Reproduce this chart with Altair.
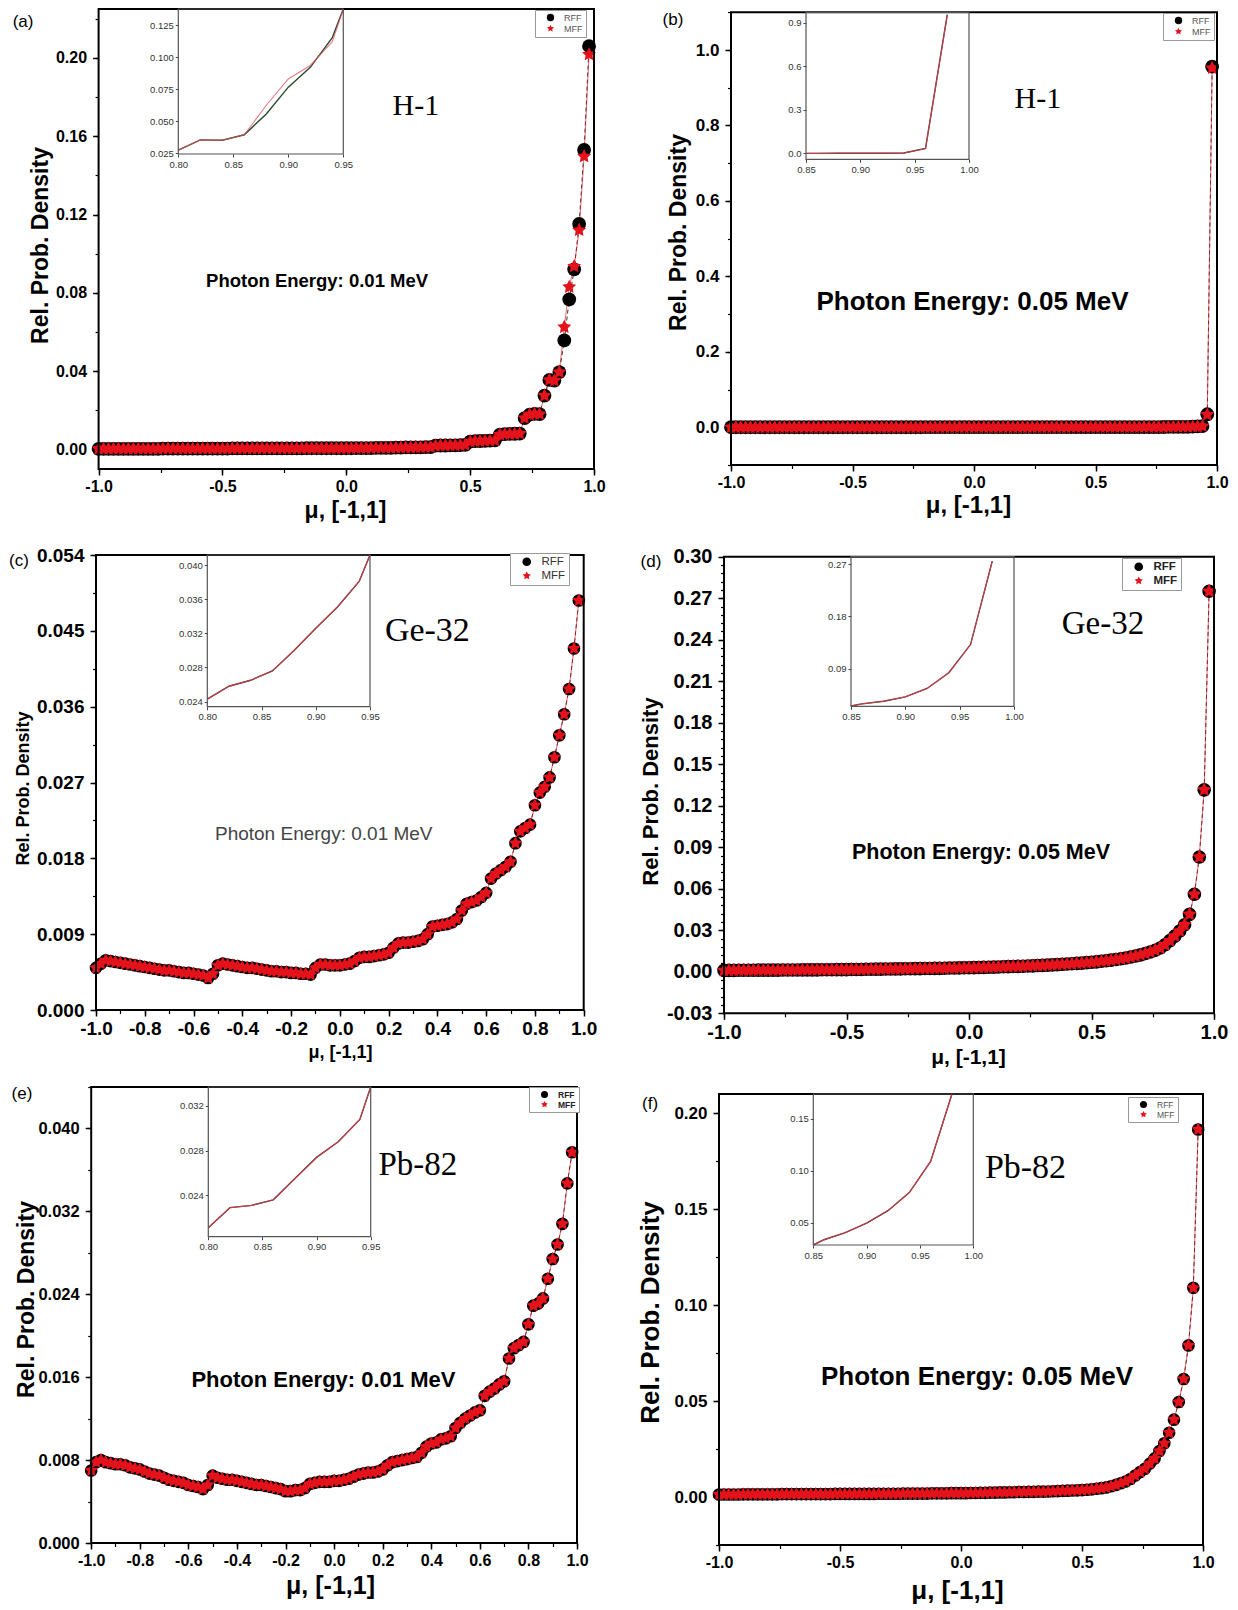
import altair as alt
import pandas as pd

CANVAS_W, CANVAS_H = 1238, 1610
SANS = "Liberation Sans"
SERIF = "Liberation Serif"
RED = "#e3121b"
# five-pointed star used for the MFF markers (unit square path)
STAR = ("M0,-1L0.2939,-0.4045L0.9511,-0.309L0.4755,0.1545L0.5878,0.809L0,0.5"
        "L-0.5878,0.809L-0.4755,0.1545L-0.9511,-0.309L-0.2939,-0.4045Z")

# cosine of the scattering angle, sampled every 0.02
MU = [round(-1.0 + 0.02 * i, 2) for i in range(100)]

# ---- H-1, 0.01 MeV ----
H1_001_RFF = [
    0.0003, 0.0003, 0.0003, 0.0003, 0.0003, 0.0003, 0.0003, 0.0003, 0.0003, 0.0003,
    0.0003, 0.0003, 0.0003, 0.0004, 0.0004, 0.0004, 0.0004, 0.0004, 0.0004, 0.0004,
    0.0004, 0.0004, 0.0004, 0.0004, 0.0004, 0.0004, 0.0004, 0.0005, 0.0005, 0.0005,
    0.0005, 0.0005, 0.0005, 0.0005, 0.0005, 0.0005, 0.0005, 0.0005, 0.0005, 0.0005,
    0.0005, 0.0005, 0.0006, 0.0006, 0.0006, 0.0006, 0.0006, 0.0006, 0.0006, 0.0006,
    0.0006, 0.0006, 0.0007, 0.0007, 0.0007, 0.0007, 0.0008, 0.0008, 0.0008, 0.0008,
    0.0009, 0.0009, 0.0010, 0.0010, 0.0011, 0.0011, 0.0012, 0.0012, 0.0019, 0.0020,
    0.0020, 0.0021, 0.0021, 0.0022, 0.0023, 0.0040, 0.0042, 0.0043, 0.0044, 0.0045,
    0.0046, 0.0076, 0.0078, 0.0079, 0.0080, 0.0081, 0.0160, 0.0178, 0.0182, 0.0180,
    0.0275, 0.0355, 0.0352, 0.0395, 0.0557, 0.0766, 0.0920, 0.1152, 0.1530, 0.2060,
]
H1_001_MFF = [
    0.0003, 0.0003, 0.0003, 0.0003, 0.0003, 0.0003, 0.0003, 0.0003, 0.0003, 0.0003,
    0.0003, 0.0003, 0.0003, 0.0004, 0.0004, 0.0004, 0.0004, 0.0004, 0.0004, 0.0004,
    0.0004, 0.0004, 0.0004, 0.0004, 0.0004, 0.0004, 0.0004, 0.0005, 0.0005, 0.0005,
    0.0005, 0.0005, 0.0005, 0.0005, 0.0005, 0.0005, 0.0005, 0.0005, 0.0005, 0.0005,
    0.0005, 0.0005, 0.0006, 0.0006, 0.0006, 0.0006, 0.0006, 0.0006, 0.0006, 0.0006,
    0.0006, 0.0006, 0.0007, 0.0007, 0.0007, 0.0007, 0.0008, 0.0008, 0.0008, 0.0008,
    0.0009, 0.0009, 0.0010, 0.0010, 0.0011, 0.0011, 0.0012, 0.0012, 0.0019, 0.0020,
    0.0020, 0.0021, 0.0021, 0.0022, 0.0023, 0.0040, 0.0042, 0.0043, 0.0044, 0.0045,
    0.0046, 0.0076, 0.0078, 0.0079, 0.0080, 0.0081, 0.0160, 0.0178, 0.0182, 0.0180,
    0.0275, 0.0355, 0.0352, 0.0395, 0.0625, 0.0830, 0.0935, 0.1120, 0.1497, 0.2018,
]

# ---- H-1, 0.05 MeV ----
H1_005_RFF = [
    0.0001, 0.0001, 0.0001, 0.0001, 0.0001, 0.0001, 0.0001, 0.0001, 0.0001, 0.0001,
    0.0001, 0.0001, 0.0001, 0.0001, 0.0001, 0.0001, 0.0001, 0.0001, 0.0001, 0.0001,
    0.0001, 0.0001, 0.0001, 0.0001, 0.0001, 0.0001, 0.0001, 0.0001, 0.0001, 0.0001,
    0.0001, 0.0001, 0.0001, 0.0001, 0.0001, 0.0001, 0.0001, 0.0001, 0.0001, 0.0001,
    0.0002, 0.0002, 0.0002, 0.0002, 0.0002, 0.0002, 0.0002, 0.0002, 0.0002, 0.0002,
    0.0002, 0.0002, 0.0002, 0.0002, 0.0002, 0.0002, 0.0002, 0.0002, 0.0002, 0.0002,
    0.0002, 0.0002, 0.0002, 0.0002, 0.0002, 0.0002, 0.0002, 0.0002, 0.0002, 0.0002,
    0.0003, 0.0003, 0.0003, 0.0003, 0.0003, 0.0003, 0.0003, 0.0003, 0.0003, 0.0003,
    0.0003, 0.0003, 0.0004, 0.0004, 0.0004, 0.0005, 0.0005, 0.0006, 0.0006, 0.0007,
    0.0008, 0.0009, 0.0010, 0.0011, 0.0013, 0.0016, 0.0021, 0.0030, 0.0345, 0.9560,
]
H1_005_MFF = [
    0.0001, 0.0001, 0.0001, 0.0001, 0.0001, 0.0001, 0.0001, 0.0001, 0.0001, 0.0001,
    0.0001, 0.0001, 0.0001, 0.0001, 0.0001, 0.0001, 0.0001, 0.0001, 0.0001, 0.0001,
    0.0001, 0.0001, 0.0001, 0.0001, 0.0001, 0.0001, 0.0001, 0.0001, 0.0001, 0.0001,
    0.0001, 0.0001, 0.0001, 0.0001, 0.0001, 0.0001, 0.0001, 0.0001, 0.0001, 0.0001,
    0.0002, 0.0002, 0.0002, 0.0002, 0.0002, 0.0002, 0.0002, 0.0002, 0.0002, 0.0002,
    0.0002, 0.0002, 0.0002, 0.0002, 0.0002, 0.0002, 0.0002, 0.0002, 0.0002, 0.0002,
    0.0002, 0.0002, 0.0002, 0.0002, 0.0002, 0.0002, 0.0002, 0.0002, 0.0002, 0.0002,
    0.0003, 0.0003, 0.0003, 0.0003, 0.0003, 0.0003, 0.0003, 0.0003, 0.0003, 0.0003,
    0.0003, 0.0003, 0.0004, 0.0004, 0.0004, 0.0005, 0.0005, 0.0006, 0.0006, 0.0007,
    0.0008, 0.0009, 0.0010, 0.0011, 0.0013, 0.0016, 0.0021, 0.0030, 0.0335, 0.9520,
]

# ---- Ge-32, 0.01 MeV ----
GE32_001_RFF = [
    0.0050, 0.0055, 0.0059, 0.0058, 0.0057, 0.0056, 0.0055, 0.0054, 0.0053, 0.0052,
    0.0051, 0.0050, 0.0049, 0.0048, 0.0047, 0.0047, 0.0046, 0.0045, 0.0044, 0.0044,
    0.0043, 0.0042, 0.0041, 0.0038, 0.0043, 0.0053, 0.0055, 0.0054, 0.0053, 0.0052,
    0.0051, 0.0050, 0.0050, 0.0049, 0.0048, 0.0047, 0.0046, 0.0046, 0.0045, 0.0045,
    0.0044, 0.0044, 0.0043, 0.0043, 0.0042, 0.0050, 0.0054, 0.0054, 0.0053, 0.0053,
    0.0053, 0.0054, 0.0055, 0.0058, 0.0062, 0.0063, 0.0063, 0.0064, 0.0065, 0.0066,
    0.0068, 0.0074, 0.0079, 0.0080, 0.0080, 0.0081, 0.0082, 0.0084, 0.0090, 0.0099,
    0.0100, 0.0101, 0.0102, 0.0104, 0.0108, 0.0118, 0.0126, 0.0128, 0.0130, 0.0134,
    0.0139, 0.0156, 0.0162, 0.0166, 0.0170, 0.0176, 0.0198, 0.0212, 0.0216, 0.0220,
    0.0243, 0.0258, 0.0265, 0.0276, 0.0300, 0.0326, 0.0351, 0.0381, 0.0429, 0.0486,
]
# the MFF curve coincides with the RFF one at this scale
GE32_001_MFF = GE32_001_RFF

# ---- Ge-32, 0.05 MeV ----
GE32_005_RFF = [
    0.0010, 0.0010, 0.0010, 0.0011, 0.0011, 0.0011, 0.0011, 0.0012, 0.0012, 0.0012,
    0.0012, 0.0012, 0.0013, 0.0013, 0.0013, 0.0013, 0.0014, 0.0014, 0.0014, 0.0014,
    0.0015, 0.0015, 0.0015, 0.0016, 0.0016, 0.0016, 0.0017, 0.0017, 0.0017, 0.0018,
    0.0018, 0.0019, 0.0019, 0.0020, 0.0020, 0.0021, 0.0021, 0.0022, 0.0022, 0.0023,
    0.0023, 0.0024, 0.0024, 0.0025, 0.0025, 0.0026, 0.0027, 0.0027, 0.0028, 0.0029,
    0.0029, 0.0030, 0.0031, 0.0032, 0.0033, 0.0034, 0.0035, 0.0036, 0.0037, 0.0038,
    0.0039, 0.0040, 0.0042, 0.0043, 0.0045, 0.0046, 0.0048, 0.0050, 0.0052, 0.0054,
    0.0056, 0.0058, 0.0061, 0.0063, 0.0066, 0.0069, 0.0072, 0.0076, 0.0080, 0.0084,
    0.0089, 0.0094, 0.0100, 0.0107, 0.0114, 0.0122, 0.0132, 0.0143, 0.0156, 0.0172,
    0.0195, 0.0225, 0.0258, 0.0295, 0.0340, 0.0415, 0.0560, 0.0830, 0.1315, 0.2750,
]
GE32_005_MFF = GE32_005_RFF

# ---- Pb-82, 0.01 MeV ----
PB82_001_RFF = [
    0.0070, 0.0078, 0.0080, 0.0078, 0.0077, 0.0076, 0.0076, 0.0075, 0.0073, 0.0072,
    0.0071, 0.0069, 0.0067, 0.0066, 0.0065, 0.0063, 0.0061, 0.0060, 0.0059, 0.0058,
    0.0056, 0.0055, 0.0054, 0.0052, 0.0056, 0.0065, 0.0063, 0.0062, 0.0061, 0.0061,
    0.0060, 0.0059, 0.0058, 0.0057, 0.0056, 0.0056, 0.0055, 0.0054, 0.0053, 0.0052,
    0.0050, 0.0050, 0.0051, 0.0051, 0.0053, 0.0057, 0.0058, 0.0059, 0.0059, 0.0059,
    0.0060, 0.0060, 0.0061, 0.0062, 0.0064, 0.0066, 0.0067, 0.0068, 0.0068, 0.0069,
    0.0071, 0.0075, 0.0078, 0.0079, 0.0080, 0.0081, 0.0082, 0.0083, 0.0087, 0.0093,
    0.0096, 0.0097, 0.0100, 0.0101, 0.0103, 0.0111, 0.0116, 0.0120, 0.0123, 0.0126,
    0.0128, 0.0142, 0.0146, 0.0149, 0.0153, 0.0156, 0.0178, 0.0188, 0.0191, 0.0194,
    0.0211, 0.0229, 0.0231, 0.0236, 0.0255, 0.0274, 0.0288, 0.0308, 0.0347, 0.0377,
]
PB82_001_MFF = PB82_001_RFF

# ---- Pb-82, 0.05 MeV ----
PB82_005_RFF = [
    0.0013, 0.0013, 0.0013, 0.0013, 0.0013, 0.0014, 0.0014, 0.0014, 0.0014, 0.0014,
    0.0014, 0.0014, 0.0014, 0.0015, 0.0015, 0.0015, 0.0015, 0.0015, 0.0015, 0.0015,
    0.0015, 0.0015, 0.0015, 0.0015, 0.0016, 0.0016, 0.0016, 0.0016, 0.0016, 0.0016,
    0.0016, 0.0016, 0.0016, 0.0017, 0.0017, 0.0017, 0.0017, 0.0017, 0.0018, 0.0018,
    0.0018, 0.0018, 0.0018, 0.0018, 0.0019, 0.0019, 0.0019, 0.0019, 0.0020, 0.0020,
    0.0020, 0.0020, 0.0021, 0.0021, 0.0022, 0.0022, 0.0023, 0.0023, 0.0024, 0.0024,
    0.0025, 0.0025, 0.0026, 0.0026, 0.0027, 0.0027, 0.0028, 0.0028, 0.0029, 0.0030,
    0.0031, 0.0032, 0.0033, 0.0034, 0.0035, 0.0036, 0.0038, 0.0040, 0.0043, 0.0046,
    0.0050, 0.0056, 0.0063, 0.0072, 0.0081, 0.0094, 0.0112, 0.0130, 0.0147, 0.0174,
    0.0201, 0.0240, 0.0280, 0.0335, 0.0403, 0.0495, 0.0615, 0.0790, 0.1090, 0.1915,
]
PB82_005_MFF = PB82_005_RFF

# ---- axis tick values ----
X_TICKS_HALF = [-1.0, -0.5, 0.0, 0.5, 1.0]
X_TICKS_FIFTH = [-1.0, -0.8, -0.6, -0.4, -0.2, 0.0, 0.2, 0.4, 0.6, 0.8, 1.0]
A_Y_TICKS = [0.0, 0.04, 0.08, 0.12, 0.16, 0.20]
B_Y_TICKS = [0.0, 0.2, 0.4, 0.6, 0.8, 1.0]
C_Y_TICKS = [0.0, 0.009, 0.018, 0.027, 0.036, 0.045, 0.054]
D_Y_TICKS = [-0.03, 0.0, 0.03, 0.06, 0.09, 0.12, 0.15, 0.18, 0.21, 0.24, 0.27, 0.30]
E_Y_TICKS = [0.0, 0.008, 0.016, 0.024, 0.032, 0.040]
F_Y_TICKS = [0.0, 0.05, 0.10, 0.15, 0.20]

INSET_X_LOW = [0.80, 0.85, 0.90, 0.95]
INSET_X_HIGH = [0.85, 0.90, 0.95, 1.00]
A_INSET_Y = [0.025, 0.050, 0.075, 0.100, 0.125]
B_INSET_Y = [0.0, 0.3, 0.6, 0.9]
C_INSET_Y = [0.024, 0.028, 0.032, 0.036, 0.040]
D_INSET_Y = [0.09, 0.18, 0.27]
E_INSET_Y = [0.024, 0.028, 0.032]
F_INSET_Y = [0.05, 0.10, 0.15]


def steps(start, stop, step):
    n = int(round((stop - start) / step))
    return [round(start + k * step, 6) for k in range(n + 1)]


PANELS = [
    dict(rff=H1_001_RFF, mff=H1_001_MFF, box=(98.6, 594, 469, 9), ydom=(-0.01, 0.225),
         yticks=A_Y_TICKS, yfmt=".2f", xticks=X_TICKS_HALF, xfmt=".1f",
         xminor=steps(-1, 1, 0.25), yminor=steps(0, 0.22, 0.02),
         ytick_fs=16, xtick_fs=16, ytitle_fs=23, xtitle_fs=23,
         xtitle_at=(345, 510), ytitle_at=(40, 245),
         legend=dict(x=535, y=10, fs=9, color="#555", weight="normal", sym=55),
         rsize=190, msize=215,
         texts=[("(a)", -1.305, 0.2184, dict(font=SANS, fontSize=17)),
                ("H-1", 0.281, 0.1754, dict(font=SERIF, fontSize=30)),
                ("Photon Energy: 0.01 MeV", -0.118, 0.086,
                 dict(font=SANS, fontSize=18.5, fontWeight="bold"))],
         inset=dict(xdom=(0.80, 0.95), xpx=(178.3, 343.3), ydom=(0.0245, 0.1375), ypx=(154, 9),
                    xticks=INSET_X_LOW, yticks=A_INSET_Y, yfmt=".3f", keep=(0.80, 0.96),
                    rcolor="#2c4a30")),
    dict(rff=H1_005_RFF, mff=H1_005_MFF, box=(731, 1217, 465, 12.3), ydom=(-0.1, 1.1),
         yticks=B_Y_TICKS, yfmt=".1f", xticks=X_TICKS_HALF, xfmt=".1f",
         xminor=steps(-1, 1, 0.25), yminor=steps(-0.1, 1.1, 0.1),
         ytick_fs=17, xtick_fs=16, ytitle_fs=23, xtitle_fs=24,
         xtitle_at=(968, 505), ytitle_at=(678, 232),
         legend=dict(x=1163, y=13, fs=9, color="#555", weight="normal", sym=55),
         rsize=190, msize=215,
         texts=[("(b)", -1.239, 1.0796, dict(font=SANS, fontSize=17)),
                ("H-1", 0.263, 0.870, dict(font=SERIF, fontSize=30)),
                ("Photon Energy: 0.05 MeV", -0.006, 0.332,
                 dict(font=SANS, fontSize=26, fontWeight="bold"))],
         inset=dict(xdom=(0.85, 1.0), xpx=(806, 969), ydom=(-0.04, 0.972), ypx=(159.3, 12.3),
                    xticks=INSET_X_HIGH, yticks=B_INSET_Y, yfmt=".1f", keep=(0.84, 0.98),
                    rcolor="#4a1f1f")),
    dict(rff=GE32_001_RFF, mff=GE32_001_MFF, box=(96, 583.7, 1010, 555), ydom=(0.0, 0.054),
         yticks=C_Y_TICKS, yfmt=".3f", xticks=X_TICKS_FIFTH, xfmt=".1f",
         xminor=steps(-1, 1, 0.1), yminor=steps(0, 0.054, 0.0045),
         ytick_fs=19, xtick_fs=19, ytitle_fs=18, xtitle_fs=18,
         xtitle_at=(340, 1052), ytitle_at=(23, 788),
         legend=dict(x=510, y=553, fs=11.5, color="#333", weight="normal", sym=75),
         rsize=160, msize=195,
         texts=[("(c)", -1.316, 0.0533, dict(font=SANS, fontSize=17)),
                ("Ge-32", 0.359, 0.04498, dict(font=SERIF, fontSize=34)),
                ("Photon Energy: 0.01 MeV", -0.066, 0.02083,
                 dict(font=SANS, fontSize=19, color="#444"))],
         inset=dict(xdom=(0.80, 0.95), xpx=(207.3, 370), ydom=(0.0234, 0.0412), ypx=(706.7, 555),
                    xticks=INSET_X_LOW, yticks=C_INSET_Y, yfmt=".3f", keep=(0.80, 0.96),
                    rcolor="#4a1f1f")),
    dict(rff=GE32_005_RFF, mff=GE32_005_MFF, box=(724, 1214, 1013.3, 556.7), ydom=(-0.03, 0.30),
         yticks=D_Y_TICKS, yfmt=".2f", xticks=X_TICKS_HALF, xfmt=".1f",
         xminor=steps(-1, 1, 0.25), yminor=steps(-0.03, 0.30, 0.006),
         ytick_fs=20, xtick_fs=20, ytitle_fs=22, xtitle_fs=21,
         xtitle_at=(968, 1057), ytitle_at=(650, 791),
         legend=dict(x=1122, y=558, fs=11.5, color="#222", weight="bold", sym=75),
         rsize=185, msize=220,
         texts=[("(d)", -1.298, 0.2962, dict(font=SANS, fontSize=17)),
                ("Ge-32", 0.547, 0.2514, dict(font=SERIF, fontSize=33)),
                ("Photon Energy: 0.05 MeV", 0.049, 0.0858,
                 dict(font=SANS, fontSize=21.5, fontWeight="bold"))],
         inset=dict(xdom=(0.85, 1.0), xpx=(851, 1014), ydom=(0.0253, 0.2826), ypx=(706.3, 556.7),
                    xticks=INSET_X_HIGH, yticks=D_INSET_Y, yfmt=".2f", keep=(0.84, 0.98),
                    rcolor="#4a1f1f")),
    dict(rff=PB82_001_RFF, mff=PB82_001_MFF, box=(91.2, 577, 1543, 1087), ydom=(0.0, 0.044),
         yticks=E_Y_TICKS, yfmt=".3f", xticks=X_TICKS_FIFTH, xfmt=".1f",
         xminor=steps(-1, 1, 0.1), yminor=steps(0, 0.044, 0.004),
         ytick_fs=16.5, xtick_fs=16, ytitle_fs=23, xtitle_fs=25,
         xtitle_at=(330, 1585), ytitle_at=(26, 1299),
         legend=dict(x=529, y=1087, fs=8.5, color="#222", weight="bold", sym=50),
         rsize=160, msize=195,
         texts=[("(e)", -1.285, 0.04332, dict(font=SANS, fontSize=17)),
                ("Pb-82", 0.345, 0.03652, dict(font=SERIF, fontSize=33)),
                ("Photon Energy: 0.01 MeV", -0.044, 0.01573,
                 dict(font=SANS, fontSize=22, fontWeight="bold"))],
         inset=dict(xdom=(0.80, 0.95), xpx=(208.3, 370.7), ydom=(0.0203, 0.0337), ypx=(1236.7, 1087),
                    xticks=INSET_X_LOW, yticks=E_INSET_Y, yfmt=".3f", keep=(0.80, 0.96),
                    rcolor="#4a1f1f")),
    dict(rff=PB82_005_RFF, mff=PB82_005_MFF, box=(719, 1203, 1545, 1094), ydom=(-0.025, 0.21),
         yticks=F_Y_TICKS, yfmt=".2f", xticks=X_TICKS_HALF, xfmt=".1f",
         xminor=steps(-1, 1, 0.25), yminor=steps(-0.025, 0.20, 0.025),
         ytick_fs=17, xtick_fs=16, ytitle_fs=26, xtitle_fs=26,
         xtitle_at=(957, 1590), ytitle_at=(650, 1312),
         legend=dict(x=1128, y=1097, fs=8.5, color="#555", weight="normal", sym=50),
         rsize=160, msize=195,
         texts=[("(f)", -1.285, 0.2048, dict(font=SANS, fontSize=17)),
                ("Pb-82", 0.2665, 0.1714, dict(font=SERIF, fontSize=34)),
                ("Photon Energy: 0.05 MeV", 0.066, 0.0625,
                 dict(font=SANS, fontSize=26, fontWeight="bold"))],
         inset=dict(xdom=(0.85, 1.0), xpx=(813.3, 973.3), ydom=(0.0284, 0.174), ypx=(1245, 1094),
                    xticks=INSET_X_HIGH, yticks=F_INSET_Y, yfmt=".2f", keep=(0.84, 0.98),
                    rcolor="#4a1f1f")),
]

MINUS_FIX = "replace(datum.label, '\u2212', '-')"
ONE = pd.DataFrame({"k": [0]})


def box_layer(sx, sy, x0, x1, y0, y1, xaxis, yaxis, **mark):
    return alt.Chart(ONE).mark_rect(**mark).encode(
        x=alt.XDatum(x0, type="quantitative", scale=sx, axis=xaxis),
        x2=alt.X2Datum(x1),
        y=alt.YDatum(y0, type="quantitative", scale=sy, axis=yaxis),
        y2=alt.Y2Datum(y1),
    )


def build_panel(p):
    L, R, B, T = p["box"]
    y0, y1 = p["ydom"]
    sx = alt.Scale(domain=[-1, 1], range=[L, R], nice=False, zero=False)
    sy = alt.Scale(domain=[y0, y1], range=[B, T], nice=False, zero=False)
    df = pd.DataFrame({
        "mu": MU + MU,
        "val": list(p["rff"]) + list(p["mff"]),
        "series": ["RFF"] * len(MU) + ["MFF"] * len(MU),
    })

    common = dict(domain=False, grid=False, tickColor="black", tickWidth=1.5, tickSize=6,
                  labelFont=SANS, labelFontWeight="bold", labelColor="black",
                  labelFlush=False, labelOverlap=False,
                  titleFont=SANS, titleFontWeight="bold", titleColor="black",
                  titleAlign="center", titleBaseline="middle")
    xcx, xcy = p["xtitle_at"]
    ycx, ycy = p["ytitle_at"]
    x_axis = alt.Axis(orient="bottom", offset=B - CANVAS_H, values=p["xticks"], format=p["xfmt"],
                      labelExpr=MINUS_FIX, labelFontSize=p["xtick_fs"], labelPadding=3,
                      title="\u03bc, [-1,1]", titleFontSize=p["xtitle_fs"],
                      titleX=xcx, titleY=xcy - B, titleAngle=0, **common)
    y_axis = alt.Axis(orient="left", offset=-L, values=p["yticks"], format=p["yfmt"],
                      labelExpr=MINUS_FIX, labelFontSize=p["ytick_fs"], labelPadding=6,
                      title="Rel. Prob. Density", titleFontSize=p["ytitle_fs"],
                      titleX=ycx - L, titleY=ycy, titleAngle=270, **common)
    minor_common = dict(domain=False, grid=False, labels=False, tickColor="black",
                        tickWidth=1.2, tickSize=3.5, title=None)
    x_minor = alt.Axis(orient="bottom", offset=B - CANVAS_H, values=p["xminor"], **minor_common)
    y_minor = alt.Axis(orient="left", offset=-L, values=p["yminor"], **minor_common)

    frame = box_layer(sx, sy, -1, 1, y0, y1, x_axis, y_axis,
                      fill="white", fillOpacity=0, stroke="black", strokeWidth=2)
    minor = box_layer(sx, sy, -1, 1, y0, y1, x_minor, y_minor, opacity=0)

    xq = alt.X("mu:Q", scale=sx, axis=None)
    yq = alt.Y("val:Q", scale=sy, axis=None)
    base = alt.Chart(df)
    is_rff = alt.datum.series == "RFF"
    is_mff = alt.datum.series == "MFF"
    line_r = base.transform_filter(is_rff).mark_line(
        color="black", strokeWidth=0.8, strokeDash=[4, 3]).encode(x=xq, y=yq)
    line_m = base.transform_filter(is_mff).mark_line(
        color=RED, strokeWidth=0.8, opacity=0.8).encode(x=xq, y=yq)

    lg = p["legend"]
    legend = alt.Legend(orient="none", legendX=lg["x"], legendY=lg["y"], title=None,
                        direction="vertical", fillColor="white", strokeColor="#999",
                        padding=3, rowPadding=1, symbolSize=lg["sym"], symbolOffset=8,
                        labelOffset=9, labelFont=SANS, labelFontSize=lg["fs"],
                        labelColor=lg["color"], labelFontWeight=lg["weight"])
    color = alt.Color("series:N", scale=alt.Scale(domain=["RFF", "MFF"], range=["black", RED]),
                      legend=legend)
    shape = alt.Shape("series:N", scale=alt.Scale(domain=["RFF", "MFF"], range=["circle", STAR]),
                      legend=legend)
    pts_r = base.transform_filter(is_rff).mark_point(
        filled=True, size=p["rsize"], opacity=1).encode(x=xq, y=yq, color=color, shape=shape)
    pts_m = base.transform_filter(is_mff).mark_point(
        filled=True, size=p["msize"], opacity=1).encode(x=xq, y=yq, color=color, shape=shape)

    texts = []
    for text, tx, ty, style in p["texts"]:
        texts.append(alt.Chart(ONE).mark_text(text=text, align="center", baseline="middle",
                                              **style).encode(
            x=alt.XDatum(tx, type="quantitative", scale=sx, axis=None),
            y=alt.YDatum(ty, type="quantitative", scale=sy, axis=None)))

    main = alt.layer(line_r, line_m, pts_r, pts_m, frame, minor, *texts).resolve_axis(
        x="independent", y="independent")

    # zoomed inset of the forward-scattering tail
    ip = p["inset"]
    xi0, xi1 = ip["xdom"]
    Li, Ri = ip["xpx"]
    yi0, yi1 = ip["ydom"]
    Bi, Ti = ip["ypx"]
    sxi = alt.Scale(domain=[xi0, xi1], range=[Li, Ri], nice=False, zero=False, clamp=True)
    syi = alt.Scale(domain=[yi0, yi1], range=[Bi, Ti], nice=False, zero=False, clamp=True)
    lo, hi = ip["keep"]
    sub = df[(df["mu"] >= lo - 1e-9) & (df["mu"] <= hi + 1e-9)]
    inset_common = dict(domain=False, grid=False, tickColor="#444", tickWidth=1, tickSize=3,
                        labelFont=SANS, labelFontSize=9.5, labelColor="#333", labelPadding=2,
                        labelFlush=False, labelOverlap=False, title=None)
    xi_axis = alt.Axis(orient="bottom", offset=Bi - CANVAS_H, values=ip["xticks"], format=".2f",
                       **inset_common)
    yi_axis = alt.Axis(orient="left", offset=-Li, values=ip["yticks"], format=ip["yfmt"],
                       **inset_common)
    iframe = box_layer(sxi, syi, xi0, xi1, yi0, yi1, xi_axis, yi_axis,
                       fill="white", fillOpacity=0, stroke="#555", strokeWidth=1.2)
    xiq = alt.X("mu:Q", scale=sxi, axis=None)
    yiq = alt.Y("val:Q", scale=syi, axis=None)
    ibase = alt.Chart(sub)
    iline_r = ibase.transform_filter(is_rff).mark_line(
        color=ip["rcolor"], strokeWidth=1.4).encode(x=xiq, y=yiq)
    iline_m = ibase.transform_filter(is_mff).mark_line(
        color="#e0505a", strokeWidth=1.1, opacity=0.75).encode(x=xiq, y=yiq)
    inset = alt.layer(iline_r, iline_m, iframe).resolve_axis(x="independent", y="independent")
    return main, inset


layers = []
for panel in PANELS:
    m, i = build_panel(panel)
    layers += [m, i]

chart = alt.layer(*layers).resolve_scale(
    x="independent", y="independent", color="independent", shape="independent"
).properties(
    width=CANVAS_W, height=CANVAS_H, padding=0, background="white",
    autosize=alt.AutoSizeParams(type="none"),
).configure_view(stroke=None)

chart.save("out.html", embed_options={"renderer": "svg", "actions": False})
